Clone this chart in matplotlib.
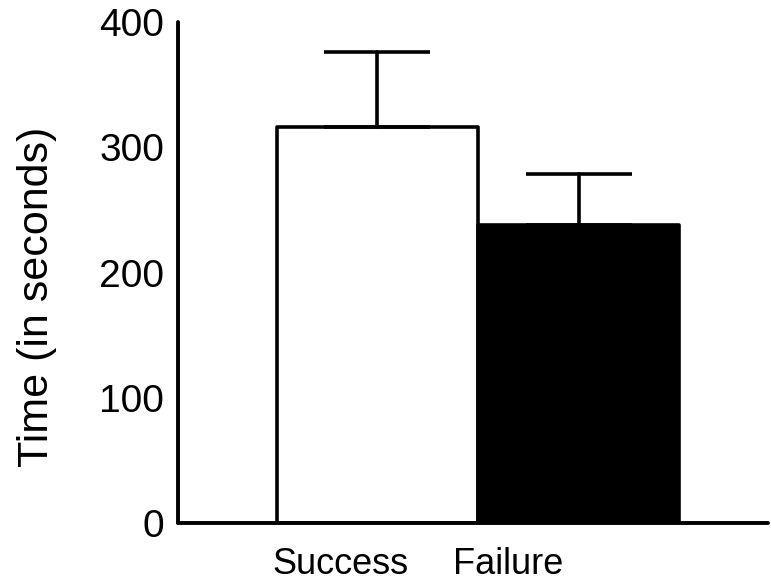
import numpy as np
import matplotlib.pyplot as plt

# data
groups = ["Success", "Failure"]
means = [316, 238]
sem = [60, 41]
colors = ["white", "black"]

fig = plt.figure(figsize=(7.71, 5.85), dpi=100)
ax = fig.add_axes([0.2309, 0.106, 0.765, 0.856])

x = np.arange(len(groups))
ax.bar(x, means, width=1.0, color=colors, edgecolor="black", linewidth=2.6,
       capstyle="round", joinstyle="round")
eb = ax.errorbar(x, means, yerr=[np.zeros(len(sem)), sem], fmt="none",
                 ecolor="black", elinewidth=2.6, capsize=38, capthick=2.6)
for ln in eb[2]:
    ln.set_capstyle("round")
for ln in eb[1]:
    ln.set_solid_capstyle("round")

ax.set_xlim(-0.99, 1.94)
ax.set_ylim(0, 400)
ax.set_yticks([0, 100, 200, 300, 400])
ax.tick_params(axis="y", length=0, pad=10, labelsize=28)
for t in ax.get_yticklabels():
    t.set_fontfamily("Liberation Sans")

# category labels sit left of the bar centres in the original
ax.set_xticks(x + np.array([-0.185, -0.35]))
ax.set_xticklabels(groups, fontsize=26, fontfamily="Liberation Sans")
ax.tick_params(axis="x", length=0, pad=17)

ax.set_ylabel("Time (in seconds)", fontsize=31, fontfamily="Liberation Sans")
ax.yaxis.set_label_coords(-0.205, 0.451)

for s in ["top", "right"]:
    ax.spines[s].set_visible(False)
for s in ["left", "bottom"]:
    ax.spines[s].set_linewidth(2.8)
    ax.spines[s].set_capstyle("round")

fig.savefig("out.png", dpi=100)
